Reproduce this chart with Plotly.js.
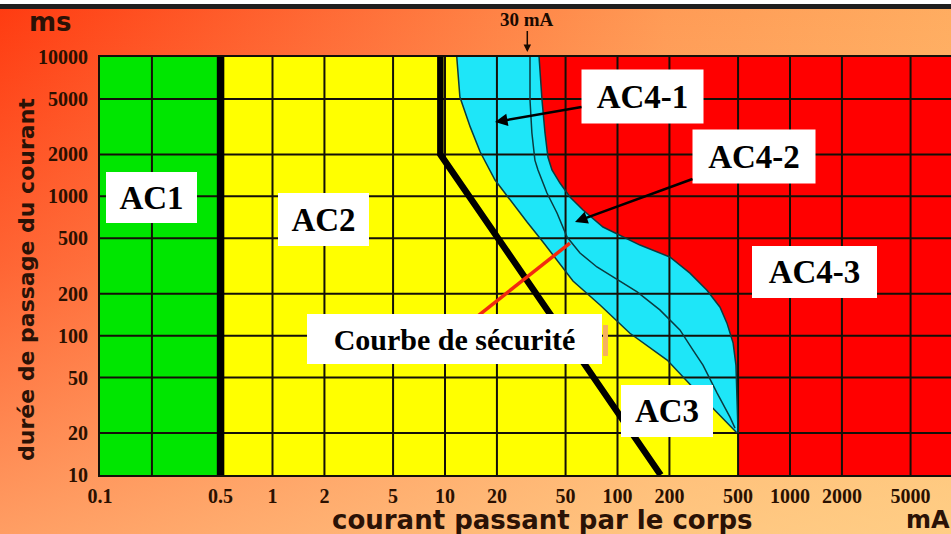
<!DOCTYPE html>
<html><head><meta charset="utf-8">
<script src="https://cdn.plot.ly/plotly-3.0.1.min.js"></script>
<style>
html,body{margin:0;padding:0;background:#fff;}
#chart{width:951px;height:534px;
background:
 linear-gradient(to bottom,#ffffff 0px,#ffffff 4px,#1e1e1e 4px,#1e1e1e 9px,rgba(0,0,0,0) 9px),
 linear-gradient(to bottom,rgba(255,230,160,0) 0%,rgba(255,230,160,0.25) 50%,rgba(255,230,160,0.58) 100%),
 linear-gradient(to right,#ff3a10 0%,#ff6a35 35%,#ff9a55 70%,#ffac60 100%);}
</style></head><body><div id="chart"></div>
<script>
// ---- data (mA / ms) ----
const xTickVals = [0.1, 0.5, 1, 2, 5, 10, 20, 50, 100, 200, 500, 1000, 2000, 5000];
const xTickText = ["0.1", "0.5", "1", "2", "5", "10", "20", "50", "100", "200", "500", "1000", "2000", "5000"];
const xGridVals = [0.2, 0.5, 1, 2, 5, 10, 20, 50, 100, 200, 500, 1000, 2000, 5000];
const yTickVals = [10, 20, 50, 100, 200, 500, 1000, 2000, 5000, 10000];
const yTickText = ["10", "20", "50", "100", "200", "500", "1000", "2000", "5000", "10000"];
const yGridVals = [20, 50, 100, 200, 500, 1000, 2000, 5000];
const xMin = 0.1, xMax = 10000, yMin = 10, yMax = 10000;
const curveA_x = [0.5, 0.5];          // AC1 / AC2 limit
const curveA_y = [10000, 10];
const curveB_x = [9.4, 9.4, 178];     // AC2 / AC3 limit
const curveB_y = [10000, 2000, 10];
const curveC1_x = [11.7, 12.2, 14.0, 16.0, 19.5, 23.8, 29.9, 37.0, 44.6, 55.2, 79.2, 118, 194, 301, 493];
const curveC1_y = [10000, 5160, 3150, 2080, 1310, 940, 654, 470, 349, 247, 166, 104, 66.8, 37.5, 20];
const curveC2_x = [31.1, 31.1, 31.9, 33.2, 34.6, 39.0, 44.6, 51.0, 60.6, 76.0, 94.2, 130, 176, 230, 274, 313, 378, 449, 480];
const curveC2_y = [10000, 4910, 2850, 1820, 1545, 1056, 759, 510, 392, 311, 264, 206, 153, 110, 78.8, 61.5, 38.7, 26, 21.7];
const curveC3_x = [35.1, 36.5, 38.0, 39.5, 41.7, 46.4, 53.0, 63.1, 82.4, 108, 135, 201, 263, 330, 393, 431, 468, 486, 500];
const curveC3_y = [10000, 4910, 2850, 1915, 1545, 1246, 989, 798, 602, 510, 447, 367, 281, 212, 160, 123, 88.5, 61.5, 20];
const safety_x = [14.4, 53];
const safety_y = [129, 462];
const arrow41 = {x: 19.5, y: 3415};
const arrow42 = {x: 56.7, y: 654};
const mark30 = 30;

// ---- regions ----
const green = {x:[xMin, curveA_x[0], curveA_x[0], xMin], y:[yMin, yMin, yMax, yMax]};
const yellow = {x:[curveA_x[0], xMax, xMax, curveA_x[0]], y:[yMin, yMin, yMax, yMax]};
const cyan = {x: curveC1_x.concat(curveC3_x.slice().reverse()), y: curveC1_y.concat(curveC3_y.slice().reverse())};
const red = {x: curveC3_x.concat([curveC3_x[curveC3_x.length-1], xMax, xMax]),
             y: curveC3_y.concat([yMin, yMin, yMax])};
const gx = [], gy = [];
xGridVals.forEach(v => { gx.push(v, v, null); gy.push(yMin, yMax, null); });
yGridVals.forEach(v => { gx.push(xMin, xMax, null); gy.push(v, v, null); });

function poly(r, color){ return {type:'scatter', mode:'lines', x:r.x, y:r.y, fill:'toself', fillcolor:color, line:{width:0, color:color}, hoverinfo:'skip', showlegend:false}; }
function line(x, y, color, w){ return {type:'scatter', mode:'lines', x:x, y:y, line:{color:color, width:w}, hoverinfo:'skip', showlegend:false}; }

const traces = [
  poly(yellow, '#ffff00'),
  poly(green, '#00e600'),
  poly(cyan, '#1ee6f8'),
  poly(red, '#ff0000'),
  line(gx, gy, '#141008', 2),
  line(curveC1_x, curveC1_y, '#0b3b40', 1.5),
  line(curveC2_x, curveC2_y, '#0b3b40', 1.5),
  line(curveC3_x, curveC3_y, '#0b3b40', 1.5),
  line(curveA_x, curveA_y, '#000000', 7.5),
  line(curveB_x, curveB_y, '#000000', 6.5),
  line(safety_x, safety_y, '#f22a10', 3.5)
];

const W = 851, H = 418, L = 100, T = 57;
const px = v => (v - L) / W;
const py = v => (T + H - v) / H;
const boxFont = {family:'Liberation Serif', size:33, weight:'bold', color:'#000'};
function box(text, cx, cy, w, h, font){
  return {text:text, xref:'paper', yref:'paper', x:px(cx), y:py(cy), xanchor:'center', yanchor:'middle',
    showarrow:false, bgcolor:'#ffffff', borderpad:0, borderwidth:0, width:w, height:h, font:font||boxFont};
}
const darkTxt = '#2a1206';
const annotations = [
  box('AC1', 151.5, 197.5, 91, 51),
  box('AC2', 323, 219, 91, 53),
  box('AC4-3', 814.5, 272, 125, 52),
  box('AC3', 667, 411, 92, 52),
  box('Courbe de sécurité', 454.5, 339, 295, 50, {family:'Liberation Serif', size:30, weight:'bold', color:'#000'}),
  {text:'AC4-1', xref:'x', yref:'y', x:Math.log10(arrow41.x), y:Math.log10(arrow41.y), ax:147.5, ay:-25.5,
   showarrow:true, arrowhead:2, arrowsize:1, arrowwidth:2.5, arrowcolor:'#000', bgcolor:'#fff', borderpad:0,
   width:121, height:53, font:boxFont},
  {text:'AC4-2', xref:'x', yref:'y', x:Math.log10(arrow42.x), y:Math.log10(arrow42.y), ax:179, ay:-65.5,
   showarrow:true, arrowhead:2, arrowsize:1, arrowwidth:2.5, arrowcolor:'#000', bgcolor:'#fff', borderpad:0,
   width:122, height:53, font:boxFont},
  {text:'30 mA', xref:'x', yref:'paper', x:Math.log10(mark30), y:py(52), ax:0, ay:-33,
   showarrow:true, arrowhead:2, arrowsize:1, arrowwidth:1.5, arrowcolor:'#1a0a00',
   font:{family:'Liberation Serif', size:19, weight:'bold', color:'#1a0a00'}},
  {text:'ms', xref:'paper', yref:'paper', x:px(50), y:py(22), xanchor:'center', yanchor:'middle', showarrow:false,
   font:{family:'DejaVu Sans', size:26, weight:'bold', color:darkTxt}},
  {text:'courant passant par le corps', xref:'paper', yref:'paper', x:px(542), y:py(520), xanchor:'center', yanchor:'middle', showarrow:false,
   font:{family:'DejaVu Sans', size:26, weight:'bold', color:darkTxt}},
  {text:'mA', xref:'paper', yref:'paper', x:px(904), y:py(520), xanchor:'left', yanchor:'middle', showarrow:false,
   font:{family:'DejaVu Sans', size:24, weight:'bold', color:darkTxt}},
  {text:'durée de passage du courant', xref:'paper', yref:'paper', x:px(26), y:py(280), xanchor:'center', yanchor:'middle',
   textangle:-90, showarrow:false, font:{family:'DejaVu Sans', size:22, weight:'bold', color:darkTxt}}
];

const tickFont = {family:'Liberation Serif', size:20, weight:'bold', color:'#2a1000'};
const layout = {
  width:951, height:534,
  margin:{l:L, r:0, t:T, b:534 - T - H, pad:0},
  paper_bgcolor:'rgba(0,0,0,0)', plot_bgcolor:'rgba(0,0,0,0)',
  showlegend:false, hovermode:false,
  xaxis:{type:'log', range:[-1, -1 + W/172.5], tickvals:xTickVals, ticktext:xTickText,
    showgrid:false, zeroline:false, showline:true, mirror:true, linecolor:'#141008', linewidth:2,
    ticks:'outside', ticklen:2, tickcolor:'rgba(0,0,0,0)', tickfont:tickFont, automargin:false},
  yaxis:{type:'log', range:[1, 4], tickvals:yTickVals, ticktext:yTickText,
    showgrid:false, zeroline:false, showline:true, linecolor:'#141008', linewidth:2,
    ticks:'outside', ticklen:6, tickcolor:'rgba(0,0,0,0)', tickfont:tickFont, automargin:false},
  annotations: annotations,
  shapes:[{type:'rect', xref:'paper', yref:'paper', x0:px(603), x1:px(608), y0:py(356), y1:py(325),
    fillcolor:'#f6b060', line:{width:0}}]
};
Plotly.newPlot('chart', traces, layout, {displayModeBar:false, staticPlot:true});
</script></body></html>
